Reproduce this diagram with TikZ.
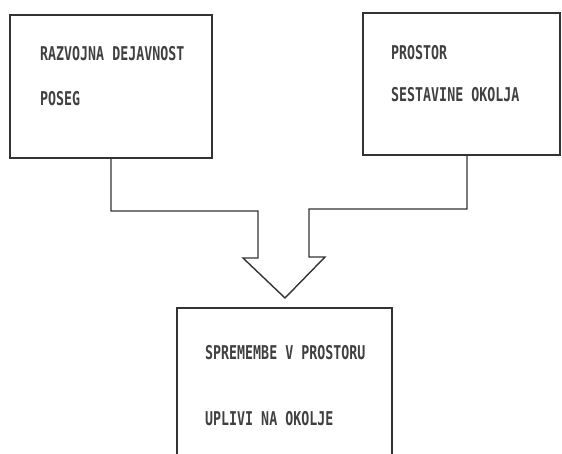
\documentclass[tikz,border=0pt]{standalone}
\usepackage{fontspec}
\newfontfamily\plotfont[FakeStretch=0.7]{DejaVu Sans Mono}
\begin{document}
\begin{tikzpicture}[x=1pt,y=-1pt,
  box/.style={draw=black!80,line width=1.4pt,rectangle,inner sep=0pt},
  lbl/.style={anchor=base west,inner sep=0pt,text=black!75,font=\plotfont\bfseries\fontsize{19}{19}\selectfont},
  flow/.style={draw=black!80,line width=1.4pt,line join=miter}]
\useasboundingbox (0,0) rectangle (562,454);
\begin{scope}
\clip (0,0) rectangle (562,454);
\node[box,minimum width=202pt,minimum height=143pt] (b1) at (111,86.5) {};
\node[box,minimum width=197pt,minimum height=142pt] (b2) at (461.5,84) {};
\node[box,minimum width=215pt,minimum height=162pt] (b3) at (284.5,389) {};
\end{scope}
\node[lbl] (t1) at (40,61) {RAZVOJNA DEJAVNOST};
\node[lbl] (t2) at (40,106) {POSEG};
\node[lbl] (t3) at (391,60) {PROSTOR};
\node[lbl] (t4) at (391,101.5) {SESTAVINE OKOLJA};
\node[lbl] (t5) at (205,359) {SPREMEMBE V PROSTORU};
\node[lbl] (t6) at (205,425.5) {UPLIVI NA OKOLJE};
\coordinate (tip) at (285,298);
\draw[flow] (b1.south) |- (258,211) -- (258,258) -- (243,258) -- (tip)
  -- (325,257) -- (309,257) -- (309,209) -| ([xshift=5.5pt]b2.south);
\end{tikzpicture}
\end{document}
